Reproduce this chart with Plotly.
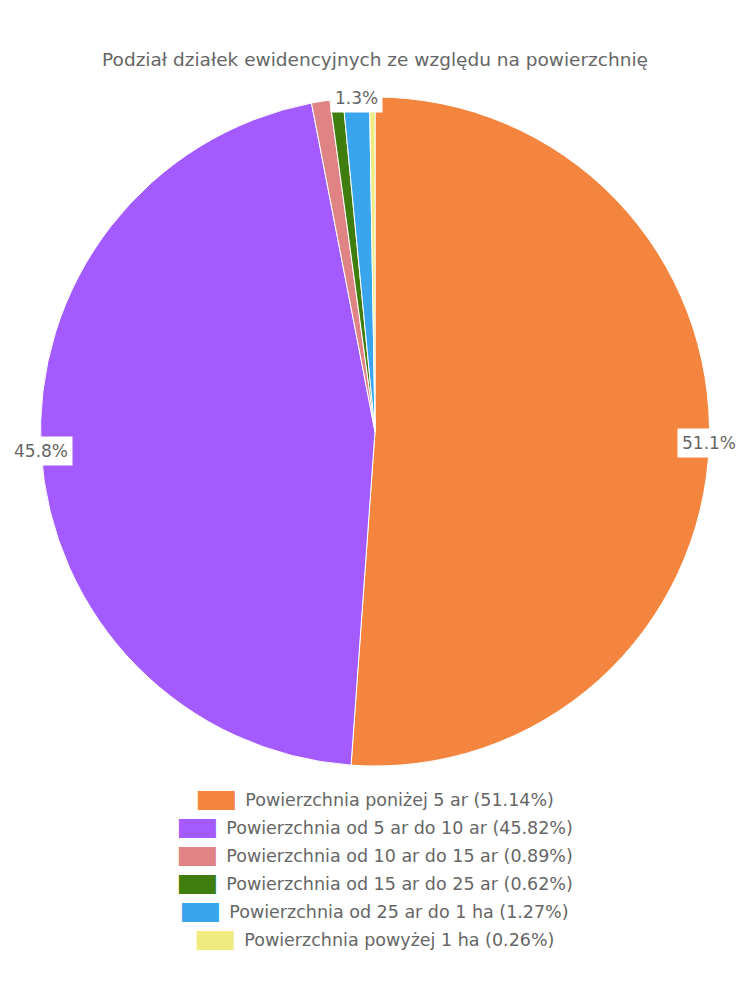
import math
import plotly.graph_objects as go

title = "Podział działek ewidencyjnych ze względu na powierzchnię"
categories = [
    "Powierzchnia poniżej 5 ar",
    "Powierzchnia od 5 ar do 10 ar",
    "Powierzchnia od 10 ar do 15 ar",
    "Powierzchnia od 15 ar do 25 ar",
    "Powierzchnia od 25 ar do 1 ha",
    "Powierzchnia powyżej 1 ha",
]
values = [51.14, 45.82, 0.89, 0.62, 1.27, 0.26]
colors = ["#f4853f", "#a35bff", "#e08385", "#3f7e0e", "#38a5ec", "#efeb7e"]
shown_labels = [True, True, False, False, True, False]

W, H = 750, 1000
OFF = 8  # page body margin
cx, cy, R = 375 - OFF, 431.5 - OFF, 334.5  # pixels
FONT = "DejaVu Sans"
GRAY = "#666666"

fig = go.Figure()
fig.add_trace(go.Pie(
    labels=categories,
    values=values,
    marker=dict(colors=colors, line=dict(color="white", width=1)),
    sort=False,
    direction="clockwise",
    rotation=0,
    textinfo="none",
    hoverinfo="label+percent",
    showlegend=False,
    domain=dict(x=[(cx - R) / W, (cx + R) / W], y=[1 - (cy + R) / H, 1 - (cy - R) / H]),
))

annotations = []
total = sum(values)
cum = 0.0
for v, show in zip(values, shown_labels):
    mid = (cum + v / 2) / total * 2 * math.pi
    cum += v
    if not show:
        continue
    px = cx + R * math.sin(mid)
    py = cy - R * math.cos(mid)
    annotations.append(dict(
        x=px / W, y=1 - py / H, xref="paper", yref="paper",
        text=f"{v / total * 100:.1f}%", showarrow=False,
        font=dict(family=FONT, size=17, color=GRAY),
        bgcolor="white", borderpad=4, xanchor="center", yanchor="middle",
    ))

# legend rows
row_y0, row_dy = 800 - OFF, 28
for i, (c, v, col) in enumerate(zip(categories, values, colors)):
    txt = (f"<span style='color:{col};font-family:DejaVu Sans Mono;font-size:16px;"
           f"letter-spacing:-0.6px'>████</span>"
           f"\u00a0\u00a0{c} ({v:.2f}%)")
    annotations.append(dict(
        x=0.5 - OFF / W, y=1 - (row_y0 + i * row_dy) / H, xref="paper", yref="paper",
        text=txt, showarrow=False, xanchor="center", yanchor="middle",
        font=dict(family=FONT, size=17.5, color=GRAY),
    ))

fig.update_layout(
    width=W, height=H,
    margin=dict(l=0, r=0, t=0, b=0),
    paper_bgcolor="white",
    title=dict(text=title, x=0.5 - OFF / W, xanchor="center", y=1 - (60 - OFF) / H, yanchor="middle",
               font=dict(family=FONT, size=18.5, color=GRAY)),
    annotations=annotations,
)

fig.write_html("out.html")
